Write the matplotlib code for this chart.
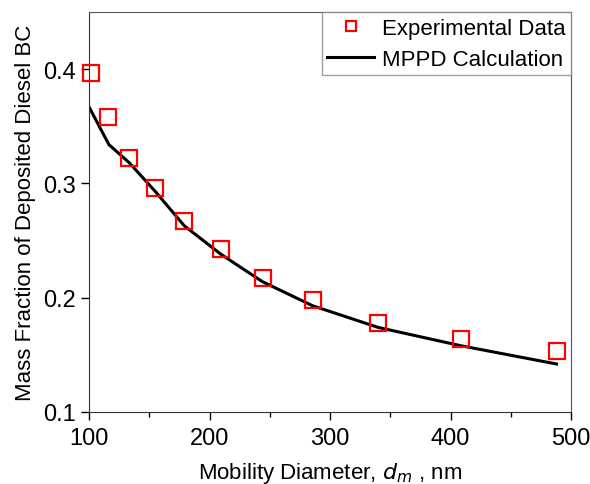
import matplotlib.pyplot as plt
from matplotlib.ticker import MultipleLocator

# experimental points
exp_diameter = [102, 116, 133.5, 155, 179, 209.5, 244, 285.5, 340, 408.5, 488]
exp_fraction = [0.397, 0.358, 0.322, 0.296, 0.267, 0.243, 0.217, 0.198, 0.178, 0.164, 0.153]

# MPPD model curve
mppd_diameter = [100, 116.5, 133.5, 155, 179, 209.5, 244, 285.5, 340, 408.5, 488]
mppd_fraction = [0.367, 0.334, 0.318, 0.293, 0.263, 0.238, 0.214, 0.193, 0.174, 0.158, 0.142]

plt.rcParams['font.family'] = ['Liberation Sans', 'DejaVu Sans']

fig = plt.figure(figsize=(5.9, 4.85), dpi=100)
ax = fig.add_axes([89 / 590, 1 - 413 / 485, (571 - 89) / 590, (413 - 13) / 485])

ax.plot(exp_diameter, exp_fraction, linestyle='none', marker='s', markersize=11,
        markerfacecolor='none', markeredgecolor='red', markeredgewidth=1.6,
        label='Experimental Data', clip_on=False, zorder=3)
ax.plot(mppd_diameter, mppd_fraction, color='black', linewidth=2.2,
        label='MPPD Calculation')

ax.set_xlim(100, 500)
ax.set_ylim(0.1, 0.45)
ax.xaxis.set_major_locator(MultipleLocator(100))
ax.xaxis.set_minor_locator(MultipleLocator(50))
ax.yaxis.set_major_locator(MultipleLocator(0.1))
ax.tick_params(axis='both', which='major', direction='out', length=6, width=1, labelsize=17)
ax.tick_params(axis='x', which='minor', direction='out', length=3.5, width=1)
ax.tick_params(axis='x', which='major', pad=5)
ax.yaxis.set_major_formatter(plt.FuncFormatter(lambda v, p: f'{v:.1f}'))

for side in ['top', 'right']:
    ax.spines[side].set_color('#555555')
for side in ['left', 'bottom']:
    ax.spines[side].set_color('#333333')

ax.set_xlabel('Mobility Diameter, $d_m$ , nm', fontsize=16, labelpad=8)
ax.set_ylabel('Mass Fraction of Deposited Diesel BC', fontsize=16, labelpad=5)

leg = ax.legend(loc='upper right', bbox_to_anchor=(1, 1), borderaxespad=0,
                fancybox=False, edgecolor='#888888', fontsize=16,
                handlelength=2.1, handletextpad=0.35, borderpad=0.25,
                labelspacing=0.45, markerscale=0.7)
leg.get_frame().set_linewidth(1)

fig.savefig('out.png', dpi=100)
